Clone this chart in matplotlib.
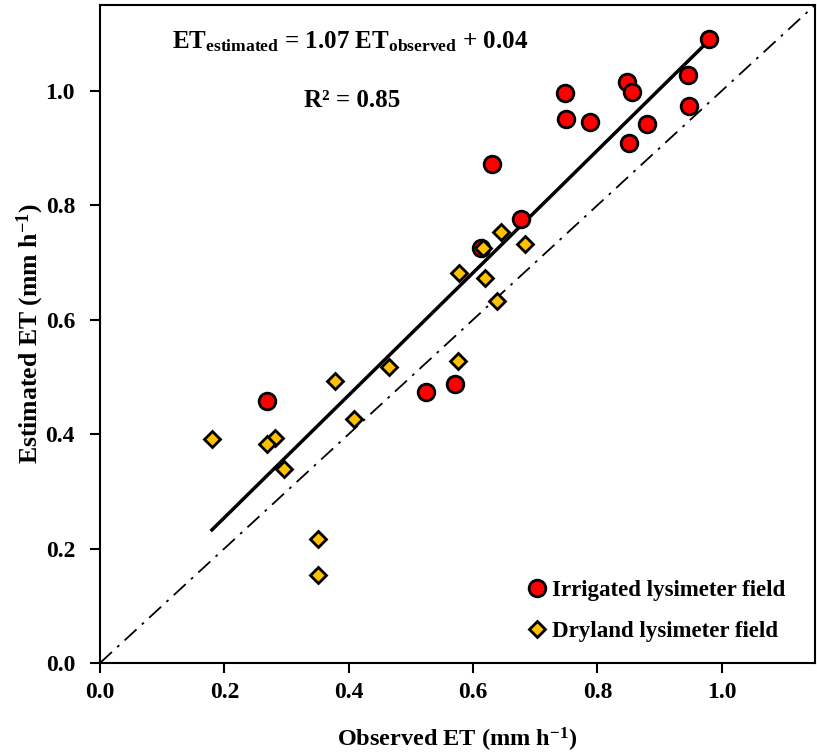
import numpy as np
import matplotlib
matplotlib.use('Agg')
from matplotlib import pyplot as plt

matplotlib.rcParams.update({
    'font.family': 'Liberation Serif',
    'font.weight': 'bold',
    'mathtext.fontset': 'custom',
    'mathtext.rm': 'Liberation Serif:bold',
    'mathtext.it': 'Liberation Serif:bold',
    'mathtext.bf': 'Liberation Serif:bold',
    'mathtext.sf': 'Liberation Serif:bold',
})

# irrigated lysimeter field
irr_obs = [0.979, 0.946, 0.848, 0.856, 0.748, 0.750, 0.788, 0.880, 0.947, 0.850,
           0.630, 0.677, 0.613, 0.269, 0.524, 0.571]
irr_est = [1.090, 1.027, 1.016, 0.998, 0.996, 0.951, 0.946, 0.942, 0.974, 0.909,
           0.872, 0.776, 0.725, 0.458, 0.473, 0.487]

# dryland lysimeter field
dry_obs = [0.645, 0.684, 0.616, 0.578, 0.620, 0.638, 0.575, 0.465, 0.378, 0.409,
           0.180, 0.281, 0.268, 0.296, 0.350, 0.351]
dry_est = [0.753, 0.732, 0.726, 0.681, 0.672, 0.633, 0.528, 0.518, 0.492, 0.427,
           0.392, 0.394, 0.382, 0.339, 0.217, 0.153]

slope, intercept = 1.07, 0.04
lims = [0, 1.15]

fig = plt.figure(figsize=(8.17, 7.54), dpi=100)
ax = fig.add_axes([0.1224, 0.1207, 0.8752, 0.8727])

ax.plot(lims, lims, color='black', lw=1.3, ls=(0, (9, 4, 1.5, 4)), zorder=1)

allx = np.array(irr_obs + dry_obs)
xl = np.array([allx.min(), allx.max()])
ax.plot(xl, slope*xl + intercept, color='black', lw=2.5, zorder=2)

ax.plot(irr_obs, irr_est, 'o', ms=12, mfc='#FF0000', mec='black', mew=2,
        label='Irrigated lysimeter field', zorder=3)
ax.plot(dry_obs, dry_est, 'D', ms=8.5, mfc='#FFC000', mec='black', mew=2,
        label='Dryland lysimeter field', zorder=4)

ax.set_xlim(lims)
ax.set_ylim(lims)
ax.set_xticks(np.arange(0, 1.01, 0.2))
ax.set_yticks(np.arange(0, 1.01, 0.2))
ax.xaxis.set_major_formatter(matplotlib.ticker.FormatStrFormatter('%.1f'))
ax.yaxis.set_major_formatter(matplotlib.ticker.FormatStrFormatter('%.1f'))
ax.tick_params(direction='out', length=7, width=1.5, labelsize=17)
ax.tick_params(axis='x', pad=7)
ax.tick_params(axis='y', pad=11)
for s in ax.spines.values():
    s.set_linewidth(1.5)

ax.set_xlabel('Observed ET (mm h$^{-1}$)', fontsize=17.5, fontweight='bold', labelpad=16)
ax.set_ylabel('Estimated ET (mm h$^{-1}$)', fontsize=18.5, fontweight='bold', labelpad=0)

ax.text(0.403, 1.085, r'ET$_{estimated}$ = 1.07 ET$_{observed}$ + 0.04',
        ha='center', va='center', fontsize=18)
ax.text(0.405, 0.983, 'R² = 0.85', ha='center', va='center', fontsize=18)

ax.legend(loc='center left', bbox_to_anchor=(0.5986, 0.079), frameon=False,
          fontsize=16.5, handlelength=0.8, handletextpad=0.25,
          borderaxespad=0, borderpad=0, labelspacing=0.85)

plt.savefig('out.png', dpi=100)
